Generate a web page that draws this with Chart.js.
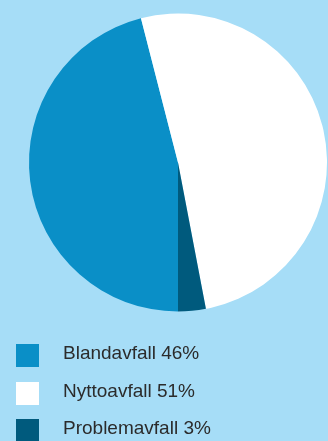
<!DOCTYPE html>
<html>
<head>
<meta charset="utf-8">
<script src="https://cdn.jsdelivr.net/npm/chart.js@4"></script>
<style>
  html, body { margin: 0; padding: 0; }
  body { width: 328px; height: 441px; background: #a6ddf7; position: relative; overflow: hidden; font-family: "Liberation Sans", Arial, sans-serif; }
  #wrap { position: absolute; left: 0; top: 0; width: 328px; height: 441px; }
  .row { position: absolute; left: 0; height: 23px; }
  .sw { position: absolute; left: 16px; top: 0; width: 23px; height: 23px; }
  .lbl { position: absolute; left: 63px; top: -3px; font-size: 19px; line-height: 23px; color: #2b2b2b; white-space: nowrap; }
</style>
</head>
<body>
<div id="wrap"><canvas id="pie"></canvas></div>
<div id="legend"></div>
<script>
// waste types and shares (%)
const labels = ['Blandavfall', 'Nyttoavfall', 'Problemavfall'];
const shares = [46, 51, 3];
const colors = ['#0a8fc7', '#ffffff', '#005a7d'];

const ctx = document.getElementById('pie').getContext('2d');
const pieChart = new Chart(ctx, {
    type: 'pie',
    data: {
        labels: labels,
        datasets: [{
            data: shares,
            backgroundColor: colors,
            borderWidth: 0
        }]
    },
    options: {
        responsive: true,
        maintainAspectRatio: false,
        animation: false,
        rotation: 180,
        events: [],
        layout: {
            padding: { left: 29, right: 1, top: 13, bottom: 129 }
        },
        plugins: {
            legend: { display: false },
            tooltip: { enabled: false }
        }
    }
});

// legend below the pie
const legend = document.getElementById('legend');
labels.forEach((name, i) => {
    const row = document.createElement('div');
    row.className = 'row';
    row.style.top = (344 + i * 37.7) + 'px';
    row.innerHTML = '<div class="sw" style="background:' + colors[i] + '"></div>' +
        '<div class="lbl">' + name + ' ' + shares[i] + '%</div>';
    legend.appendChild(row);
});
</script>
</body>
</html>
